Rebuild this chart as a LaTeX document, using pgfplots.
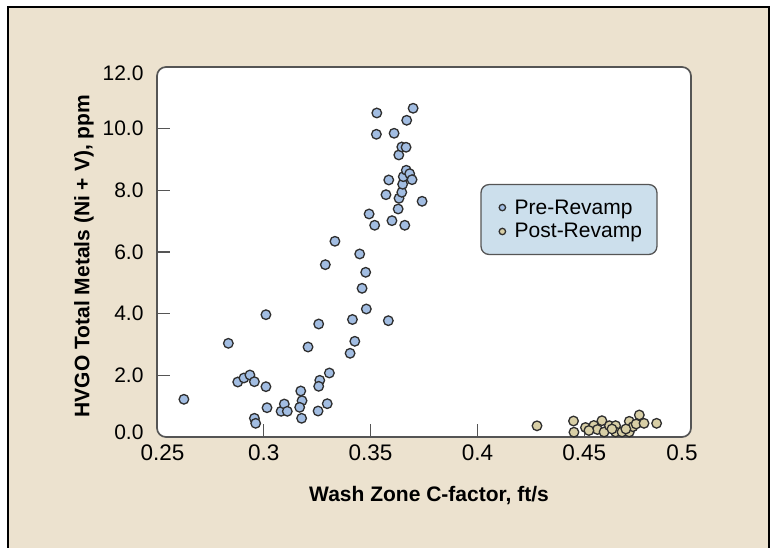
\documentclass[border=0pt]{standalone}
\usepackage{fontspec}
\setmainfont{Liberation Sans}
\usepackage{pgfplots}
\pgfplotsset{compat=1.18}

\definecolor{bgbeige}{HTML}{ECE2CF}
\definecolor{preblue}{HTML}{A2BDE2}
\definecolor{postkhaki}{HTML}{D8CFA6}
\definecolor{legblue}{HTML}{CCDFEC}
\definecolor{boxgray}{HTML}{555555}
\definecolor{markedge}{HTML}{2E2E2E}

\begin{document}
\begin{tikzpicture}
% page frame
\path[use as bounding box] (0pt,0pt) rectangle (773pt,-548pt);
\fill[white] (0pt,0pt) rectangle (773pt,-548pt);
\fill[bgbeige] (8pt,-7pt) rectangle (769pt,-548pt);
\draw[black, line width=1.5pt] (8pt,-548pt) -- (8pt,-7pt) -- (769pt,-7pt) -- (769pt,-548pt);

\begin{axis}[
    at={(157pt,-437pt)}, anchor=south west,
    width=534pt, height=370pt, scale only axis,
    xmin=0.25, xmax=0.5,
    ymin=0, ymax=12,
    xtick={0.3,0.35,0.4,0.45},
    ytick={2,4,6,8,10},
    extra x ticks={0.25,0.5},
    extra x tick labels={\hspace*{11pt}0.25, 0.5\hspace*{18pt}},
    extra y ticks={0,12},
    extra y tick labels={\raisebox{5pt}[\height][0pt]{0.0}, \raisebox{-6pt}[\height][0pt]{12.0}},
    extra x tick style={major tick length=0pt},
    extra y tick style={major tick length=0pt},
    xtick pos=bottom, ytick pos=left,
    tick align=inside,
    major tick length=13pt,
    tick style={boxgray, line width=1.2pt},
    axis line style={draw=none},
    axis background/.style={fill=white, draw=boxgray, line width=1.7pt, rounded corners=9pt},
    clip=false,
    /pgf/number format/assume math mode=true,
    y tick label style={font=\fontsize{21}{24}\selectfont, /pgf/number format/fixed, /pgf/number format/fixed zerofill, /pgf/number format/precision=1, xshift=-10pt},
    x tick label style={font=\fontsize{22.5}{26}\selectfont, /pgf/number format/fixed, /pgf/number format/precision=2, yshift=-4pt},
    xlabel={\textbf{Wash Zone C-factor, ft/s}},
    ylabel={\textbf{HVGO Total Metals (Ni + V), ppm}},
    label style={font=\fontsize{21}{24}\selectfont},
    xlabel style={at={(axis description cs:0.5094,-0.157)}, anchor=center},
    ylabel style={at={(axis description cs:-0.1367,0.489)}, anchor=center},
    legend style={at={(0.7715,0.5878)}, anchor=center,
        fill=legblue, draw=boxgray, line width=1.3pt, rounded corners=8pt,
        font=\fontsize{21}{24}\selectfont,
        inner xsep=13pt, inner ysep=13pt, row sep=4pt},
    legend cell align=left,
    legend image code/.code={\draw[#1, mark size=3.2pt, line width=1pt] plot coordinates {(0pt,0pt)};
        \path (-7.7pt,0pt) (9.7pt,0pt);},
]

\addplot[only marks, mark=*, mark size=4.8pt,
    mark options={draw=markedge, line width=1.3pt, fill=preblue}]
coordinates {
(0.2626,1.223) (0.2834,3.039) (0.2878,1.784) (0.2907,1.914) (0.2935,2.011)
(0.2956,1.794) (0.3010,1.632) (0.3010,3.967) (0.2956,0.607) (0.2962,0.444)
(0.3015,0.950) (0.3081,0.834) (0.3096,1.070) (0.3110,0.834) (0.3173,1.492)
(0.3179,1.177) (0.3168,0.963) (0.3177,0.607) (0.3254,0.843) (0.3262,1.839)
(0.3257,1.644) (0.3297,1.080) (0.3307,2.076) (0.3207,2.919) (0.3257,3.665)
(0.3288,5.589) (0.3333,6.348) (0.3404,2.715) (0.3426,3.104) (0.3415,3.811)
(0.3480,4.152) (0.3460,4.823) (0.3477,5.342) (0.3449,5.936) (0.3583,3.772)
(0.3493,7.233) (0.3519,6.867) (0.3600,7.016) (0.3629,7.395) (0.3660,6.867)
(0.3572,7.859) (0.3585,8.336) (0.3633,7.742) (0.3646,7.937) (0.3650,8.197)
(0.3653,8.443) (0.3667,8.651) (0.3683,8.540) (0.3694,8.346) (0.3741,7.645)
(0.3632,9.147) (0.3646,9.406) (0.3666,9.397) (0.3527,9.818) (0.3610,9.851)
(0.3529,10.509) (0.3669,10.272) (0.3699,10.662)
};
\addlegendentry{Pre-Revamp}

\addplot[only marks, mark=*, mark size=4.8pt,
    mark options={draw=markedge, line width=1.3pt, fill=postkhaki}]
coordinates {
(0.4279,0.363) (0.4450,0.519) (0.4452,0.156) (0.4506,0.308) (0.4545,0.373)
(0.4583,0.529) (0.4562,0.243) (0.4593,0.162) (0.4618,0.367) (0.4647,0.367)
(0.4647,0.162) (0.4677,0.162) (0.4711,0.509) (0.4711,0.162) (0.4728,0.334)
(0.4758,0.714) (0.4743,0.422) (0.4780,0.444) (0.4839,0.444) (0.4522,0.211)
(0.4630,0.260) (0.4695,0.260)
};
\addlegendentry{Post-Revamp}

\end{axis}
\end{tikzpicture}
\end{document}
